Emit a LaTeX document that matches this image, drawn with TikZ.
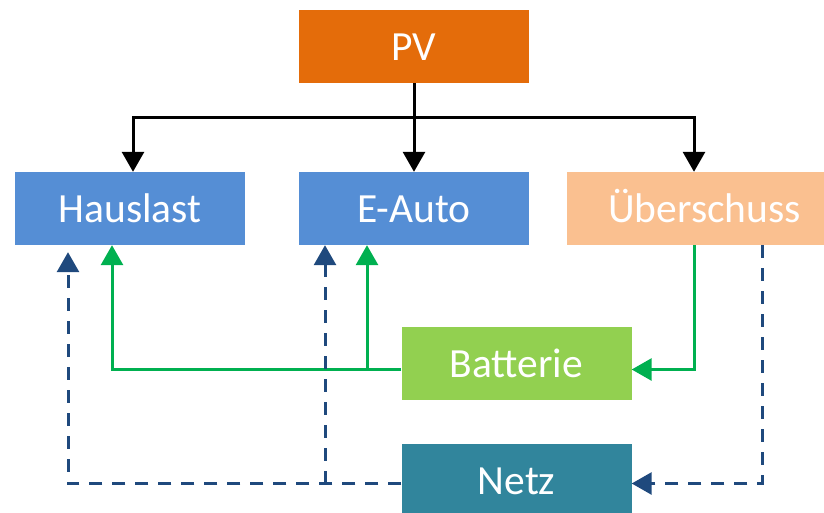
\documentclass[tikz,border=0pt]{standalone}
\usepackage{fontspec}
\setmainfont{Carlito}
\usetikzlibrary{arrows.meta}

\definecolor{pvorange}{HTML}{E46C0A}
\definecolor{lastblue}{HTML}{558ED5}
\definecolor{restorange}{HTML}{FAC090}
\definecolor{battgreen}{HTML}{92D050}
\definecolor{netzteal}{HTML}{31859C}
\definecolor{flowgreen}{HTML}{00B050}
\definecolor{flowblue}{HTML}{1F497D}

\newcommand{\boxw}{230pt}
\newcommand{\boxh}{73pt}

\tikzset{
    block/.style={rectangle, inner sep=0pt, minimum height=\boxh,
        minimum width=\boxw, text=white, text height=28pt, text depth=0pt,
        font=\fontsize{41.5pt}{50pt}\selectfont},
    tip/.style={-{Triangle[width=22pt,length=20pt]}},
    pvflow/.style={tip, line width=3pt, black},
    battflow/.style={tip, line width=3pt, flowgreen},
    netzflow/.style={tip, line width=3pt, flowblue, dash pattern=on 13pt off 10pt}
}

\begin{document}
\begin{tikzpicture}[x=1pt,y=-1pt]

\useasboundingbox (0,0) rectangle (824,513);

% blocks
\node[block, fill=pvorange] (PV) at (414,46.5) {PV};
\node[block, fill=lastblue] (Hauslast) at (130,208.5) {Hauslast};
\node[block, fill=lastblue] (EAuto) at (414,208.5) {E-Auto};
\node[block, fill=restorange, minimum width=275pt] (Ueber) at (704.5,208.5) {Überschuss};
\node[block, fill=battgreen] (Batterie) at (516.5,363.5) {Batterie};
\node[block, fill=netzteal] (Netz) at (516.5,480.5) {Netz};

% junctions
\coordinate (split) at (414,118);
\coordinate (gjoin) at (367,369.5);
\coordinate (bjoin) at (325,483.5);

% PV distribution
\draw[pvflow] (PV.south) -- (split) -| ([xshift=3pt]Hauslast.north);
\draw[pvflow] (split) -- (EAuto.north);
\draw[pvflow] (split) -| ([xshift=-10.5pt]Ueber.north);

% battery path
\draw[battflow] ([xshift=-10.5pt]Ueber.south) |- ([yshift=-6pt]Batterie.east);
\draw[battflow] ([yshift=-6pt]Batterie.west) -| ([xshift=-18pt]Hauslast.south);
\draw[battflow] (gjoin) -- ([xshift=-47pt]EAuto.south);

% grid path
\draw[netzflow] ([xshift=57.5pt]Ueber.south) |- ([yshift=-3pt]Netz.east);
\draw[netzflow, shorten >=7pt] ([yshift=-3pt]Netz.west) -| ([xshift=-62pt]Hauslast.south);
\draw[netzflow] (bjoin) -- ([xshift=-89pt]EAuto.south);

\end{tikzpicture}
\end{document}
